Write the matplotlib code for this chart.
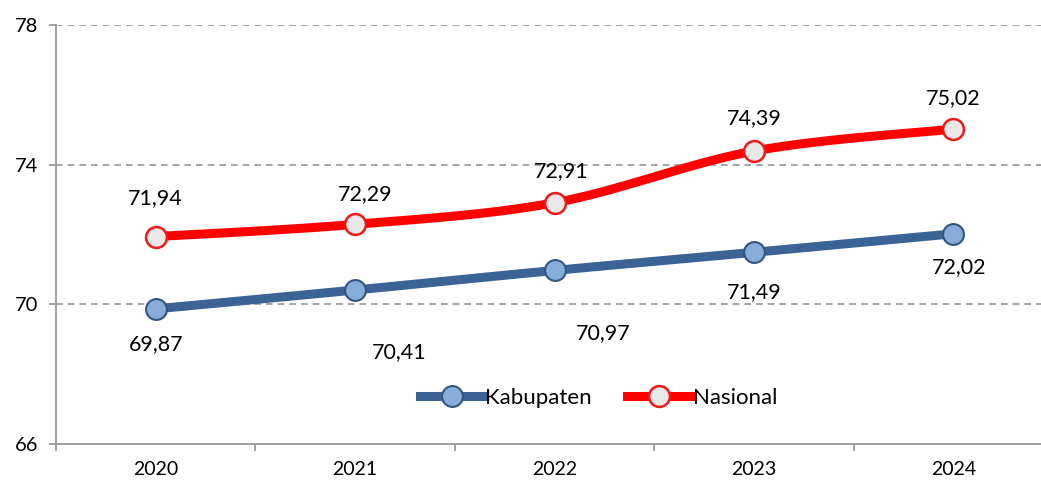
import numpy as np
import matplotlib.pyplot as plt

years = ['2020', '2021', '2022', '2023', '2024']
kabupaten = [69.87, 70.41, 70.97, 71.49, 72.02]
nasional = [71.94, 72.29, 72.91, 74.39, 75.02]
y_ticks = [66, 70, 74, 78]

# label offsets in points (dx, dy), as placed in the original
kab_off = [(0, -25), (32, -45), (35, -45), (0, -29), (4, -24)]
nas_off = [(0, 28), (7, 22), (5, 23), (0, 24), (0, 22)]

plt.rcParams['font.family'] = ['Lato', 'DejaVu Sans']


def smooth(xs, ys, n=30):
    # Catmull-Rom style smoothing like Excel's smoothed line
    xs = np.asarray(xs, float)
    ys = np.asarray(ys, float)
    px = np.concatenate([[xs[0]], xs, [xs[-1]]])
    py = np.concatenate([[ys[0]], ys, [ys[-1]]])
    ox, oy = [], []
    t = np.linspace(0, 1, n)
    for i in range(1, len(px) - 2):
        p0, p1, p2, p3 = [np.array([px[j], py[j]]) for j in (i - 1, i, i + 1, i + 2)]
        c1 = p1 + (p2 - p0) / 6
        c2 = p2 - (p3 - p1) / 6
        pts = ((1 - t) ** 3)[:, None] * p1 + (3 * (1 - t) ** 2 * t)[:, None] * c1 \
            + (3 * (1 - t) * t ** 2)[:, None] * c2 + (t ** 3)[:, None] * p2
        ox.extend(pts[:, 0])
        oy.extend(pts[:, 1])
    return ox, oy


fig = plt.figure(figsize=(10.41, 4.84), dpi=100)
ax = fig.add_axes([56 / 1041, 40 / 484, 997 / 1041, 419 / 484])

x = np.arange(len(years))
blue = '#3B6396'
red = '#FF0000'
kab_style = dict(marker='o', ms=15, mfc='#86ACD9', mec='#34557F', mew=1.5)
nas_style = dict(marker='o', ms=15, mfc='#E8E8E8', mec='#F01818', mew=1.8)

sx, sy = smooth(x, kabupaten)
ax.plot(sx, sy, color=blue, lw=6.5, solid_capstyle='round', zorder=3)
ax.plot(x, kabupaten, ls='none', zorder=4, **kab_style)
sx, sy = smooth(x, nasional)
ax.plot(sx, sy, color=red, lw=6.5, solid_capstyle='round', zorder=3)
ax.plot(x, nasional, ls='none', zorder=4, **nas_style)

# legend proxies
ax.plot([], [], color=blue, lw=6.5, label='Kabupaten', **kab_style)
ax.plot([], [], color=red, lw=6.5, label='Nasional', **nas_style)

for i, v in enumerate(kabupaten):
    ax.annotate(f'{v:.2f}'.replace('.', ','), (x[i], v), xytext=kab_off[i], textcoords='offset points',
                ha='center', va='center', fontsize=15.5, color='black')
for i, v in enumerate(nasional):
    ax.annotate(f'{v:.2f}'.replace('.', ','), (x[i], v), xytext=nas_off[i], textcoords='offset points',
                ha='center', va='center', fontsize=15.5, color='black')

ax.set_xlim(-0.5, 4.5)
ax.set_ylim(66, 78)
ax.set_yticks(y_ticks)
ax.set_xticks(x)
ax.set_xticklabels(years)
ax.set_xticks(np.arange(-0.5, 5, 1), minor=True)
ax.tick_params(axis='x', which='major', length=0, labelsize=14, pad=12)
ax.tick_params(axis='x', which='minor', length=5, color='#999999', width=1.3)
ax.tick_params(axis='y', length=5, color='#999999', width=1.3, labelsize=14.5, pad=8)

for y in y_ticks[1:]:
    ax.axhline(y, color='#969696', lw=1.2, ls=(0, (4, 3)), zorder=1)
for s in ['top', 'right']:
    ax.spines[s].set_visible(False)
for s in ['left', 'bottom']:
    ax.spines[s].set_color('#999999')
    ax.spines[s].set_linewidth(1.3)

ax.legend(loc='center', bbox_to_anchor=(0.544, 0.11), ncol=2, frameon=False, fontsize=16,
          handlelength=2.9, handletextpad=0.05, columnspacing=1.6)

plt.savefig('out.png', dpi=100)
